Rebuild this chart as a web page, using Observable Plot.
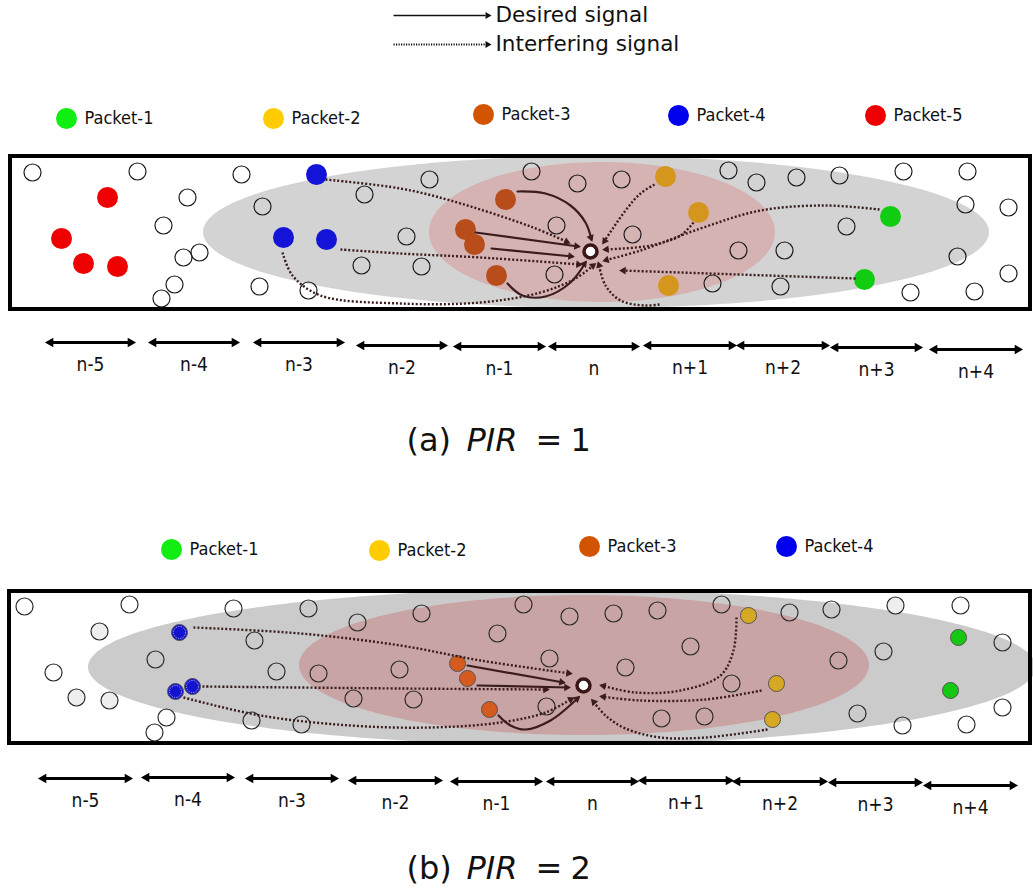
<!DOCTYPE html>
<html><head><meta charset="utf-8">
<script src="https://cdn.jsdelivr.net/npm/d3@7"></script>
<script src="https://cdn.jsdelivr.net/npm/@observablehq/plot@0.6"></script>
<style>body{margin:0;background:#fff;}</style>
</head><body><div id="chart"></div>
<script>
// ---------- data ----------
const segmentLabels = ["n-5","n-4","n-3","n-2","n-1","n","n+1","n+2","n+3","n+4"];
const segmentsA = [[47,133,342],[150,237,342],[255,342,342],[358,445,345],[455,543,346],[550,637,346],[645,734,345],[738,827,345],[832,920,347],[931,1020,349]];
const segmentsB = [[40,130,778],[143,232,777],[247,336,778],[350,440,780],[452,540,781],[548,636,781],[640,731,780],[734,825,781],[830,920,782],[925,1015,785]];

const packetNames = ["Packet-1","Packet-2","Packet-3","Packet-4","Packet-5"];
const packetLegendColors = ["#11ee11","#ffcc00","#d35400","#0000ee","#ee0000"];
const packetColorsA = ["#12cc12","#d4961c","#b84c1a","#1414d8","#ee0000"];
const packetColorsB = ["#14c814","#d6a823","#d55a1e","#1414d0"];
const legendA = [[66,118],[273,118],[483,114],[678,115],[875,115]];
const legendB = [[171,549],[379,550],[589,546],[786,546]];

const boxes = [[10,1030,156,309],[9,1030,591,743]];
const grayEllipses = [[596,232,393,76],[562,667,474,78]];
const pinkEllipses = [[602,232,173,70],[584,665,285,70]];
const pinkColors = ["#d5b3b3","#c9a4a4"];
const grayColors = ["#d3d3d3","#cbcbcb"];

const nodesA = [[32,172],[137,171],[241,174],[187,197],[429,179],[364,194],[262,206],[163,225],[406,236],[199,252],[183,257],[361,265],[421,266],[174,284],[161,298],[259,286],[308,290],
 [531,171],[577,183],[621,179],[728,170],[756,182],[796,177],[839,175],[903,171],[967,171],[965,204],[1008,207],[556,225],[632,234],[846,226],[738,250],[784,250],[554,274],[712,283],[780,286],[957,256],[1008,273],[910,292],[974,291]];
const nodesB = [[24,606],[129,604],[233,608],[308,608],[357,622],[421,613],[254,640],[497,633],[155,659],[53,672],[276,671],[318,673],[399,669],[353,698],[413,699],[166,717],[154,732],[251,720],[301,724],
 [523,604],[569,616],[613,613],[657,610],[721,604],[789,612],[831,609],[960,605],[549,658],[690,646],[625,667],[838,660],[883,651],[1002,642],[731,683],[546,706],[661,718],[704,716],[857,713],[902,725],[1002,707],[966,724]];
const lightNodesB = [[99,631],[76,697],[109,700],[895,605]];

// packets: [packet index (1-based), x, y]
const packetsA = [[5,107,197],[5,61,238],[5,83,263],[5,117,266],
 [4,316,174],[4,283,237],[4,326,239],
 [3,505,199],[3,465,229],[3,474,244],[3,496,275],
 [2,665,176],[2,698,212],[2,668,285],
 [1,890,216],[1,864,279]];
const packetsB = [[4,179,632],[4,175,691],[4,192,686],
 [3,457,663],[3,467,678],[3,489,709],
 [2,748,615],[2,776,683],[2,772,719],
 [1,958,637],[1,950,690]];
const receivers = [[590,251],[583,685]];

const desiredA = [
 [[517,191],[545,193],[570,205],[585,222],[591,239]],
 [[475,232],[578,246]],
 [[491,248],[572,256]],
 [[507,283],[522,295],[545,296],[570,282],[585,262]]];
const interferingA = [
 [[325,179],[400,188],[450,200],[530,226],[568,242]],
 [[340,249],[400,253],[480,257],[580,264]],
 [[282,252],[292,275],[320,295],[400,303],[480,302],[540,292],[575,278],[594,264]],
 [[654,184],[640,193],[625,210],[603,242]],
 [[693,222],[680,235],[650,245],[604,249]],
 [[879,209],[825,205],[760,210],[700,228],[640,250],[604,260]],
 [[855,278],[621,270]],
 [[659,304],[644,305],[620,300],[605,285],[598,263]]];
const desiredB = [
 [[467,665],[563,682]],
 [[477,685],[568,687]],
 [[498,715],[510,725],[525,729],[550,720],[578,697]]];
const interferingB = [
 [[193,627],[300,633],[400,645],[480,660],[570,673]],
 [[202,686],[400,688],[547,689]],
 [[183,697],[260,715],[350,725],[430,727],[500,722],[545,712],[572,698]],
 [[736,617],[733,650],[720,675],[680,690],[635,692],[601,685]],
 [[761,690],[705,699],[640,700],[601,696]],
 [[767,729],[705,737],[660,737],[625,728],[605,715],[592,700]]];

const topLegend = [["Desired signal",393,485,15],["Interfering signal",393,485,44]];
const captions = [["(a)","1",440],["(b)","2",868]];

// ---------- helpers ----------
const DARK = "#3b1c1c";
const FONT = "DejaVu Sans";
const COND = "'DejaVu Sans Condensed', 'DejaVu Sans', sans-serif";

function ellipseRows(list, colors) {
  const rows = [];
  list.forEach(([cx, cy, rx, ry], i) => {
    for (let k = 0; k <= 180; k++) {
      const t = Math.PI * k / 180;
      rows.push({id: i, fill: colors[i], x: cx - rx * Math.cos(t), y1: cy - ry * Math.sin(t), y2: cy + ry * Math.sin(t)});
    }
  });
  return rows;
}
function pathRows(paths, tag) {
  const rows = [];
  paths.forEach((p, i) => p.forEach(([x, y]) => rows.push({id: tag + i, x, y})));
  return rows;
}
function heads(paths) {
  return paths.map(p => {
    const a = p[p.length - 2], b = p[p.length - 1];
    const ang = Math.atan2(b[1] - a[1], b[0] - a[0]);
    return {x: b[0] - 2 * Math.cos(ang), y: b[1] - 2 * Math.sin(ang), rotate: ang * 180 / Math.PI + 90};
  });
}
const segRows = [...segmentsA, ...segmentsB].map(([x1, x2, y], i) => ({x1, x2, y, label: segmentLabels[i % 10]}));
const segHeads = segRows.flatMap(d => [{x: d.x1 + 3, y: d.y, rotate: -90}, {x: d.x2 - 3, y: d.y, rotate: 90}]);

const desiredPaths = [...desiredA, ...desiredB];
const interferingPaths = [...interferingA, ...interferingB];
const legendLineRows = topLegend.map(([label, x1, x2, y]) => ({label, x1, x2, y}));

const packetRows = packetsA.map(([p, x, y]) => ({x, y, fill: packetColorsA[p - 1]}));
const packetRowsB = packetsB.map(([p, x, y]) => ({x, y, p, fill: packetColorsB[p - 1]}));
const legendRows = [
  ...legendA.map(([x, y], i) => ({x, y, label: packetNames[i], fill: packetLegendColors[i]})),
  ...legendB.map(([x, y], i) => ({x, y, label: packetNames[i], fill: packetLegendColors[i]}))
];

const chart = Plot.plot({
  width: 1033, height: 891, margin: 0,
  x: {domain: [0, 1033], range: [0, 1033], axis: null},
  y: {domain: [0, 891], range: [0, 891], axis: null},
  color: {type: "identity"},
  style: {background: "#fff"},
  marks: [
    // legend of signals
    Plot.link(legendLineRows.slice(0, 1), {x1: "x1", x2: "x2", y1: "y", y2: "y", stroke: "#111", strokeWidth: 1.6}),
    Plot.link(legendLineRows.slice(1), {x1: "x1", x2: "x2", y1: "y", y2: "y", stroke: "#111", strokeWidth: 1.8, strokeDasharray: "1.2,1.3", strokeLinecap: "butt"}),
    Plot.dot(legendLineRows, {x: d => d.x2 + 2, y: "y", symbol: "triangle", r: 2.6, rotate: 90, fill: "#111"}),
    Plot.text(legendLineRows, {x: d => d.x2 + 10, y: "y", text: "label", textAnchor: "start", fontSize: 21.5, fontFamily: FONT, fill: "#111"}),
    // packet legends
    Plot.dot(legendRows, {x: "x", y: "y", r: 10.5, fill: "fill"}),
    Plot.text(legendRows, {x: d => d.x + 18, y: "y", text: "label", textAnchor: "start", fontSize: 18, fontFamily: COND, fill: "#111"}),
    // ellipses
    Plot.area(ellipseRows(grayEllipses, grayColors), {x1: "x", y1: "y1", y2: "y2", z: "id", fill: "fill"}),
    Plot.area(ellipseRows(pinkEllipses, pinkColors), {x1: "x", y1: "y1", y2: "y2", z: "id", fill: "fill"}),
    // boxes
    Plot.rect(boxes.map(([x1, x2, y1, y2]) => ({x1, x2, y1, y2})), {x1: "x1", x2: "x2", y1: "y1", y2: "y2", fill: "none", stroke: "#000", strokeWidth: 4}),
    // nodes
    Plot.dot(nodesA.map(([x, y]) => ({x, y})), {x: "x", y: "y", r: 8.5, stroke: "#1a1a1a", strokeWidth: 1.2, fill: "none"}),
    Plot.dot(nodesB.map(([x, y]) => ({x, y})), {x: "x", y: "y", r: 8.5, stroke: "#2a2a2a", strokeWidth: 1.2, fill: "none"}),
    Plot.dot(lightNodesB.map(([x, y]) => ({x, y})), {x: "x", y: "y", r: 8.5, stroke: "#2a2a2a", strokeWidth: 1.2, fill: "#eeeeee"}),
    // packets
    Plot.dot(packetRows, {x: "x", y: "y", r: 10.5, fill: "fill"}),
    Plot.dot(packetRowsB, {x: "x", y: "y", r: 8, fill: "fill", stroke: "#555", strokeWidth: 1}),
    Plot.dot(packetRowsB.filter(d => d.p === 4), {x: "x", y: "y", r: 6, fill: "none", stroke: "#ccd", strokeWidth: 0.8, strokeDasharray: "1.2,1.2"}),
    // signals
    Plot.line(pathRows(desiredPaths, "d"), {x: "x", y: "y", z: "id", curve: "catmull-rom", stroke: DARK, strokeWidth: 2.2}),
    Plot.line(pathRows(interferingPaths, "i"), {x: "x", y: "y", z: "id", curve: "catmull-rom", stroke: DARK, strokeWidth: 2.4, strokeDasharray: "2,2", strokeLinecap: "butt"}),
    Plot.dot([...heads(desiredPaths), ...heads(interferingPaths)], {x: "x", y: "y", rotate: "rotate", symbol: "triangle", r: 2.8, fill: DARK}),
    // receivers
    Plot.dot(receivers.map(([x, y]) => ({x, y})), {x: "x", y: "y", r: 6.5, fill: "#fff", stroke: "#3a1616", strokeWidth: 3.5}),
    // segments
    Plot.link(segRows, {x1: d => d.x1 + 4, x2: d => d.x2 - 4, y1: "y", y2: "y", stroke: "#000", strokeWidth: 2.8}),
    Plot.dot(segHeads, {x: "x", y: "y", rotate: "rotate", symbol: "triangle", r: 3.6, fill: "#000"}),
    Plot.text(segRows, {x: d => (d.x1 + d.x2) / 2, y: d => d.y + 22, text: "label", fontSize: 19, fontFamily: COND, fill: "#111"}),
    // captions
    Plot.text(captions, {x: 406, y: d => d[2], text: d => d[0], textAnchor: "start", fontSize: 32, fontFamily: FONT, fill: "#111"}),
    Plot.text(captions, {x: 466, y: d => d[2], text: () => "PIR", textAnchor: "start", fontSize: 32, fontFamily: FONT, fontStyle: "italic", fill: "#111"}),
    Plot.text(captions, {x: 535, y: d => d[2], text: () => "=", textAnchor: "start", fontSize: 32, fontFamily: FONT, fill: "#111"}),
    Plot.text(captions, {x: 570, y: d => d[2], text: d => d[1], textAnchor: "start", fontSize: 32, fontFamily: FONT, fill: "#111"})
  ]
});
document.getElementById("chart").append(chart);
</script></body></html>
